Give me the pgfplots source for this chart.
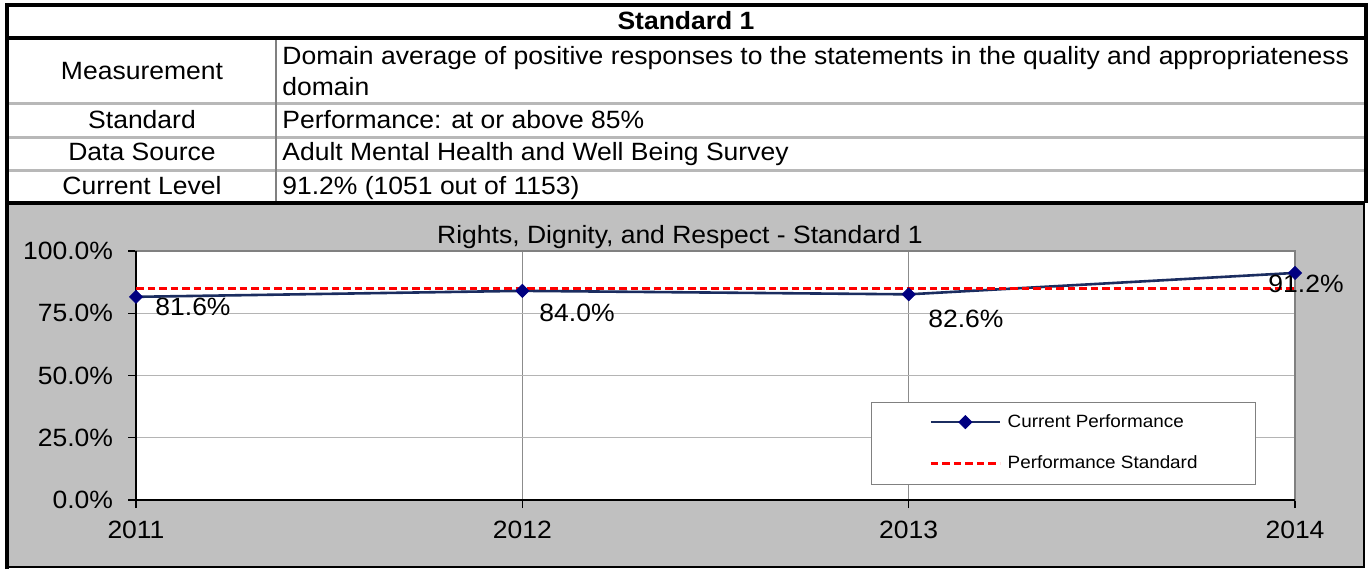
\documentclass[border=0pt]{standalone}
\usepackage{fontspec}
\setmainfont{Liberation Sans}[FakeStretch=1.06]
\usepackage{pgfplots}
\pgfplotsset{compat=1.18}
\definecolor{chartgray}{HTML}{C0C0C0}
\definecolor{rowgray}{HTML}{B8B8B8}
\definecolor{gridgray}{HTML}{B4B4B4}
\definecolor{vgrid}{HTML}{8C8C8C}
\definecolor{navyline}{HTML}{1B2D60}
\definecolor{navymark}{HTML}{000080}
\newcommand{\tfont}{\fontsize{12.5}{15}\selectfont}

\begin{document}
\begin{tikzpicture}
\begin{scope}[x=0.5pt,y=-0.5pt]
\useasboundingbox (0,0) rectangle (1369,569);
\fill[chartgray] (7,203) rectangle (1364,567);
% table rules
\draw[rowgray,line width=1.5pt] (7,103) -- (1365,103) (7,137) -- (1365,137) (7,170) -- (1365,170);
\draw[gray,line width=1pt] (276,38) -- (276,203);
\draw[black,line width=1.6pt] (7,38) -- (1365,38) (7,203) -- (1365,203);
\draw[black,line width=2pt] (7,569) -- (7,5) -- (1366,5) -- (1366,203);
\draw[black,line width=1pt] (1364,203) -- (1364,567) -- (7,567);
% table text
\node[font=\tfont\bfseries,anchor=base] at (686,29.5) {Standard 1};
\node[font=\tfont,anchor=base] at (142,79) {Measurement};
\node[font=\tfont,anchor=base west,inner sep=0pt] at (282,64.5) {Domain average of positive responses to the statements in the quality and appropriateness};
\node[font=\tfont,anchor=base west,inner sep=0pt] at (282,95.5) {domain};
\node[font=\tfont,anchor=base] at (142,128) {Standard};
\node[font=\tfont,anchor=base west,inner sep=0pt] at (282,128) {Performance: at or above 85\%};
\node[font=\tfont,anchor=base] at (142,160) {Data Source};
\node[font=\tfont,anchor=base west,inner sep=0pt] at (282,160) {Adult Mental Health and Well Being Survey};
\node[font=\tfont,anchor=base] at (142,194.5) {Current Level};
\node[font=\tfont,anchor=base west,inner sep=0pt] at (282,194.5) {91.2\% (1051 out of 1153)};
% chart title
\node[font=\tfont,anchor=base] at (680,243) {Rights, Dignity, and Respect - Standard 1};
\end{scope}

\begin{axis}[
  at={(68pt,-250pt)},anchor=south west,scale only axis,
  width=579.5pt,height=124.5pt,
  xmin=2011,xmax=2014,ymin=0,ymax=1,
  xtick={2011,2012,2013,2014},xticklabels={2011,2012,2013,2014},
  ytick={0,0.25,0.5,0.75,1},yticklabels={0.0\%,25.0\%,50.0\%,75.0\%,100.0\%},
  tick align=outside,major tick length=4pt,tick pos=left,
  tick style={black,line width=0.6pt},
  axis line style={gray,line width=0.8pt},
  axis background/.style={fill=white},
  ymajorgrids,xmajorgrids,grid style={gridgray,line width=0.6pt},
  x grid style={vgrid,line width=0.6pt},
  ticklabel style={font=\tfont},
  /pgf/number format/assume math mode=true,
  yticklabel style={xshift=-4pt},
  xticklabel style={yshift=-3pt},
  clip=false,
  legend style={at={(axis description cs:0.9663,0.063)},anchor=south east,
    draw=gray,fill=white,font=\fontsize{8.9}{11}\selectfont,
    inner xsep=29pt,inner ysep=5.6pt,row sep=11.8pt,
    nodes={inner sep=0pt,text height=7pt,text depth=2pt},
    /tikz/every odd column/.append style={column sep=3.3pt}},
  legend cell align=left,
  legend image code/.code={\draw[mark repeat=2,mark phase=2,#1] plot coordinates {(0pt,0pt) (17.25pt,0pt) (34.5pt,0pt)};},
]
\draw[black,line width=1pt] (rel axis cs:0,1) -- (rel axis cs:0,0) -- (rel axis cs:1,0);
\addplot[color=navyline,line width=1.3pt,mark=square*,
  mark options={rotate=45,fill=navymark,draw=navymark,line width=0.4pt},mark size=2.3pt]
  coordinates {(2011,0.816) (2012,0.840) (2013,0.826) (2014,0.912)};
\addlegendentry{Current Performance}
\addplot[color=red,line width=1.3pt,dash pattern=on 3.75pt off 2pt]
  coordinates {(2011,0.85) (2014,0.85)};
\addlegendentry{Performance Standard}
\node[font=\tfont,anchor=base] at (axis cs:2011.1475,0.743) {81.6\%};
\node[font=\tfont,anchor=base] at (axis cs:2012.1416,0.717) {84.0\%};
\node[font=\tfont,anchor=base] at (axis cs:2013.148,0.693) {82.6\%};
\node[font=\tfont,anchor=base] at (axis cs:2014.0285,0.833) {91.2\%};
\end{axis}
\end{tikzpicture}
\end{document}
